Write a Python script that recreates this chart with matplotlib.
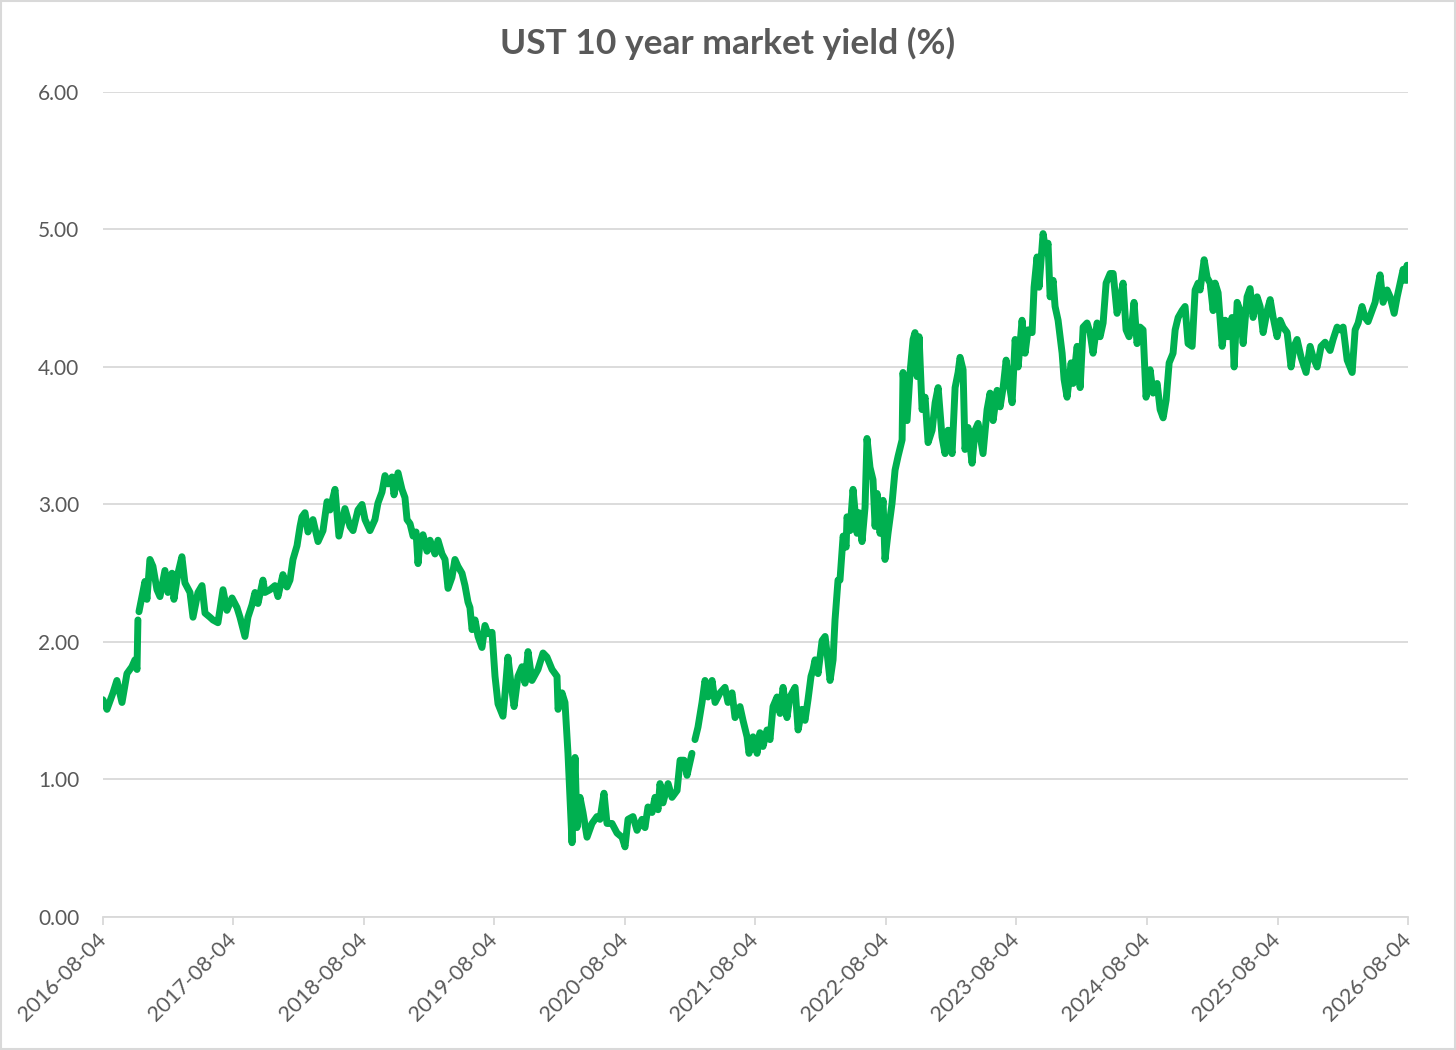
import numpy as np
import pandas as pd
import matplotlib
matplotlib.use("Agg")
import matplotlib.pyplot as plt

plt.rcParams['font.family'] = ['Lato', 'DejaVu Sans']

nan = np.nan

TITLE = "UST 10 year market yield (%)"

YEARS = [
    2016.592, 2016.623, 2016.669, 2016.699, 2016.738, 2016.776, 2016.814, 2016.837,
    2016.853, 2016.860, 2016.864, 2016.868, 2016.891, 2016.914, 2016.929, 2016.952,
    2016.975, 2017.006, 2017.029, 2017.067, 2017.090, 2017.121, 2017.136, 2017.167,
    2017.197, 2017.220, 2017.259, 2017.282, 2017.320, 2017.351, 2017.374, 2017.412,
    2017.435, 2017.473, 2017.512, 2017.542, 2017.581, 2017.619, 2017.642, 2017.680,
    2017.703, 2017.734, 2017.757, 2017.780, 2017.818, 2017.833, 2017.872, 2017.910,
    2017.933, 2017.971, 2018.002, 2018.025, 2018.048, 2018.079, 2018.102, 2018.117,
    2018.140, 2018.163, 2018.201, 2018.240, 2018.278, 2018.309, 2018.332, 2018.370,
    2018.400, 2018.446, 2018.485, 2018.508, 2018.546, 2018.577, 2018.600, 2018.638,
    2018.676, 2018.699, 2018.730, 2018.753, 2018.776, 2018.807, 2018.822, 2018.853,
    2018.883, 2018.906, 2018.922, 2018.945, 2018.968, 2018.991, 2019.006, 2019.021,
    2019.044, 2019.075, 2019.098, 2019.136, 2019.159, 2019.190, 2019.213, 2019.236,
    2019.266, 2019.289, 2019.312, 2019.343, 2019.366, 2019.389, 2019.404, 2019.420,
    2019.443, 2019.466, 2019.496, 2019.519, 2019.542, 2019.573, 2019.596, 2019.619,
    2019.657, 2019.673, 2019.695, 2019.718, 2019.742, 2019.772, 2019.803, 2019.826,
    2019.849, 2019.879, 2019.925, 2019.964, 2019.994, 2020.033, 2020.071, 2020.079,
    2020.109, 2020.132, 2020.155, 2020.186, 2020.209, 2020.224, 2020.247, 2020.270,
    2020.301, 2020.339, 2020.377, 2020.400, 2020.431, 2020.454, 2020.492, 2020.531,
    2020.569, 2020.592, 2020.615, 2020.653, 2020.684, 2020.722, 2020.745, 2020.768,
    2020.799, 2020.822, 2020.845, 2020.860, 2020.883, 2020.922, 2020.952, 2020.991,
    2021.014, 2021.044, 2021.067, 2021.105, 2021.117, 2021.128, 2021.151, 2021.182,
    2021.205, 2021.228, 2021.259, 2021.282, 2021.320, 2021.358, 2021.381, 2021.412,
    2021.435, 2021.473, 2021.496, 2021.527, 2021.542, 2021.573, 2021.604, 2021.626,
    2021.649, 2021.680, 2021.703, 2021.726, 2021.757, 2021.780, 2021.803, 2021.833,
    2021.856, 2021.895, 2021.918, 2021.948, 2021.971, 2021.994, 2022.017, 2022.033,
    2022.048, 2022.071, 2022.102, 2022.125, 2022.140, 2022.163, 2022.186, 2022.201,
    2022.224, 2022.239, 2022.263, 2022.286, 2022.293, 2022.316, 2022.339, 2022.370,
    2022.385, 2022.408, 2022.431, 2022.446, 2022.469, 2022.492, 2022.508, 2022.523,
    2022.546, 2022.569, 2022.584, 2022.607, 2022.638, 2022.661, 2022.684, 2022.715,
    2022.722, 2022.753, 2022.776, 2022.799, 2022.814, 2022.830, 2022.845, 2022.868,
    2022.891, 2022.914, 2022.945, 2022.968, 2022.991, 2023.021, 2023.044, 2023.067,
    2023.098, 2023.121, 2023.144, 2023.159, 2023.182, 2023.197, 2023.220, 2023.251,
    2023.274, 2023.297, 2023.335, 2023.366, 2023.389, 2023.412, 2023.443, 2023.466,
    2023.489, 2023.512, 2023.527, 2023.558, 2023.581, 2023.604, 2023.634, 2023.657,
    2023.680, 2023.711, 2023.726, 2023.749, 2023.764, 2023.787, 2023.795, 2023.818,
    2023.833, 2023.849, 2023.872, 2023.887, 2023.910, 2023.941, 2023.956, 2023.979,
    2024.010, 2024.025, 2024.056, 2024.079, 2024.102, 2024.132, 2024.155, 2024.178,
    2024.209, 2024.232, 2024.255, 2024.278, 2024.309, 2024.332, 2024.362, 2024.385,
    2024.408, 2024.431, 2024.454, 2024.477, 2024.492, 2024.515, 2024.538, 2024.561,
    2024.584, 2024.615, 2024.638, 2024.669, 2024.692, 2024.715, 2024.738, 2024.761,
    2024.791, 2024.807, 2024.830, 2024.860, 2024.883, 2024.906, 2024.937, 2024.960,
    2024.983, 2024.998, 2025.029, 2025.052, 2025.075, 2025.098, 2025.113, 2025.136,
    2025.167, 2025.190, 2025.213, 2025.243, 2025.259, 2025.282, 2025.305, 2025.328,
    2025.358, 2025.381, 2025.404, 2025.435, 2025.458, 2025.481, 2025.512, 2025.535,
    2025.558, 2025.588, 2025.611, 2025.634, 2025.665, 2025.695, 2025.718, 2025.741,
    2025.772, 2025.810, 2025.841, 2025.864, 2025.895, 2025.925, 2025.956, 2025.994,
    2026.017, 2026.048, 2026.071, 2026.094, 2026.125, 2026.163, 2026.186, 2026.209,
    2026.239, 2026.262, 2026.285, 2026.316, 2026.339, 2026.355, 2026.377, 2026.400,
    2026.431, 2026.454, 2026.485, 2026.508, 2026.531, 2026.554, 2026.569, 2026.584,
    2026.592,
]

# 10-year yield (%), nan marks a gap in the series
YIELDS = [
    1.58, 1.51, 1.63, 1.72, 1.56, 1.77, 1.82, 1.87,
    1.80, 2.16, nan, 2.22, 2.33, 2.44, 2.31, 2.60,
    2.55, 2.38, 2.33, 2.52, 2.36, 2.50, 2.31, 2.50,
    2.62, 2.43, 2.36, 2.18, 2.36, 2.41, 2.21, 2.18,
    2.16, 2.14, 2.38, 2.23, 2.32, 2.25, 2.18, 2.04,
    2.18, 2.27, 2.36, 2.28, 2.45, 2.36, 2.38, 2.41,
    2.33, 2.49, 2.40, 2.45, 2.60, 2.70, 2.84, 2.91,
    2.94, 2.80, 2.89, 2.73, 2.81, 3.02, 2.96, 3.11,
    2.77, 2.97, 2.84, 2.81, 2.96, 3.00, 2.89, 2.81,
    2.89, 3.01, 3.09, 3.21, 3.15, 3.20, 3.07, 3.23,
    3.11, 3.05, 2.89, 2.86, 2.77, 2.80, 2.57, 2.72,
    2.78, 2.66, 2.74, 2.64, 2.74, 2.64, 2.60, 2.39,
    2.47, 2.60, 2.55, 2.50, 2.41, 2.29, 2.25, 2.09,
    2.16, 2.04, 1.96, 2.12, 2.06, 2.07, 1.75, 1.55,
    1.46, 1.63, 1.89, 1.70, 1.53, 1.75, 1.82, 1.70,
    1.93, 1.72, 1.80, 1.92, 1.89, 1.80, 1.75, 1.51,
    1.63, 1.56, 1.19, 0.54, 1.16, 0.65, 0.87, 0.76,
    0.58, 0.68, 0.73, 0.71, 0.90, 0.68, 0.68, 0.61,
    0.58, 0.51, 0.71, 0.73, 0.63, 0.71, 0.65, 0.80,
    0.76, 0.87, 0.78, 0.97, 0.83, 0.97, 0.87, 0.92,
    1.14, 1.14, 1.03, 1.19, nan, 1.29, 1.38, 1.56,
    1.72, 1.60, 1.72, 1.56, 1.63, 1.67, 1.56, 1.63,
    1.45, 1.53, 1.43, 1.31, 1.19, 1.31, 1.19, 1.34,
    1.24, 1.36, 1.29, 1.53, 1.60, 1.48, 1.67, 1.45,
    1.60, 1.67, 1.36, 1.51, 1.43, 1.58, 1.75, 1.80,
    1.87, 1.77, 2.01, 2.04, 1.92, 1.72, 1.87, 2.16,
    2.45, 2.45, 2.77, 2.69, 2.91, 2.81, 3.11, 2.79,
    2.94, 2.73, 2.98, 3.48, 3.27, 3.18, 2.84, 3.08,
    2.79, 3.03, 2.60, 2.79, 3.01, 3.25, 3.35, 3.47,
    3.96, 3.61, 3.96, 4.20, 4.25, 3.93, 4.22, 3.69,
    3.78, 3.45, 3.54, 3.74, 3.85, 3.49, 3.37, 3.54,
    3.37, 3.85, 3.96, 4.07, 3.98, 3.40, 3.56, 3.30,
    3.54, 3.59, 3.37, 3.69, 3.81, 3.61, 3.83, 3.71,
    3.85, 4.05, 3.93, 3.74, 4.20, 4.00, 4.34, 4.10,
    4.27, 4.25, 4.58, 4.80, 4.58, 4.87, 4.97, 4.83,
    4.90, 4.51, 4.63, 4.44, 4.34, 4.10, 3.91, 3.78,
    4.03, 3.88, 4.15, 3.85, 4.29, 4.32, 4.25, 4.10,
    4.32, 4.22, 4.32, 4.61, 4.68, 4.68, 4.39, 4.49,
    4.61, 4.27, 4.22, 4.32, 4.47, 4.17, 4.29, 4.27,
    3.78, 3.98, 3.81, 3.88, 3.69, 3.63, 3.76, 4.03,
    4.10, 4.27, 4.36, 4.41, 4.44, 4.17, 4.15, 4.56,
    4.61, 4.56, 4.78, 4.65, 4.61, 4.41, 4.61, 4.54,
    4.15, 4.34, 4.22, 4.36, 4.00, 4.47, 4.41, 4.17,
    4.51, 4.57, 4.36, 4.51, 4.44, 4.25, 4.41, 4.49,
    4.36, 4.22, 4.34, 4.29, 4.25, 4.00, 4.15, 4.20,
    4.07, 3.96, 4.15, 4.07, 4.00, 4.15, 4.18, 4.12,
    4.20, 4.29, 4.27, 4.29, 4.05, 3.96, 4.27, 4.32,
    4.44, 4.36, 4.33, 4.41, 4.47, 4.56, 4.67, 4.47,
    4.56, 4.51, 4.39, 4.51, 4.61, 4.71, 4.63, 4.74,
    4.63,
]

Y_TICKS = [0, 1, 2, 3, 4, 5, 6]
X_TICK_LABELS = ['2016-08-04', '2017-08-04', '2018-08-04', '2019-08-04',
                 '2020-08-04', '2021-08-04', '2022-08-04', '2023-08-04',
                 '2024-08-04', '2025-08-04', '2026-08-04']

assert len(YEARS) == len(YIELDS)

base_date = pd.Timestamp(X_TICK_LABELS[0])
base_year = 2016.592
dates = [base_date + pd.Timedelta(days=(t - base_year) * 365.25) for t in YEARS]

GREEN = '#00B050'
GRID = '#D9D9D9'
TEXT = '#595959'

fig = plt.figure(figsize=(14.56, 10.5), dpi=100)
fig.patch.set_facecolor('white')
ax = fig.add_axes([0.0707, 0.1267, 0.8963, 0.7857])

ax.plot(dates, YIELDS, color=GREEN, lw=5.0, solid_joinstyle='round',
        solid_capstyle='round', zorder=3)

tick_dates = [pd.Timestamp(s) for s in X_TICK_LABELS]
ax.set_xlim(tick_dates[0], tick_dates[-1])
ax.set_ylim(0, 6)
ax.set_yticks(Y_TICKS)
ax.set_yticklabels([f"{v:.2f}" for v in Y_TICKS])
ax.set_xticks(tick_dates)
ax.set_xticklabels(X_TICK_LABELS, rotation=45, ha='right', va='center',
                   rotation_mode='anchor')

ax.grid(axis='y', color=GRID, lw=1.3)
ax.set_axisbelow(True)
for s in ['top', 'right', 'left']:
    ax.spines[s].set_visible(False)
ax.spines['bottom'].set_color(GRID)
ax.spines['bottom'].set_linewidth(1.3)

ax.tick_params(axis='y', length=0, pad=17, labelsize=15, labelcolor=TEXT)
ax.tick_params(axis='x', length=6, width=1.3, color=GRID, direction='out',
               pad=8, labelsize=15.5, labelcolor=TEXT)

fig.text(0.5, 1 - 43 / 1050, TITLE, ha='center', va='center', fontsize=25.5,
         fontweight='bold', color=TEXT)

fig.add_artist(plt.Rectangle((0.0005, 0.0005), 0.999, 0.999,
                             transform=fig.transFigure, fill=False,
                             edgecolor=GRID, lw=1.5))

fig.savefig('out.png', dpi=100, facecolor='white')
